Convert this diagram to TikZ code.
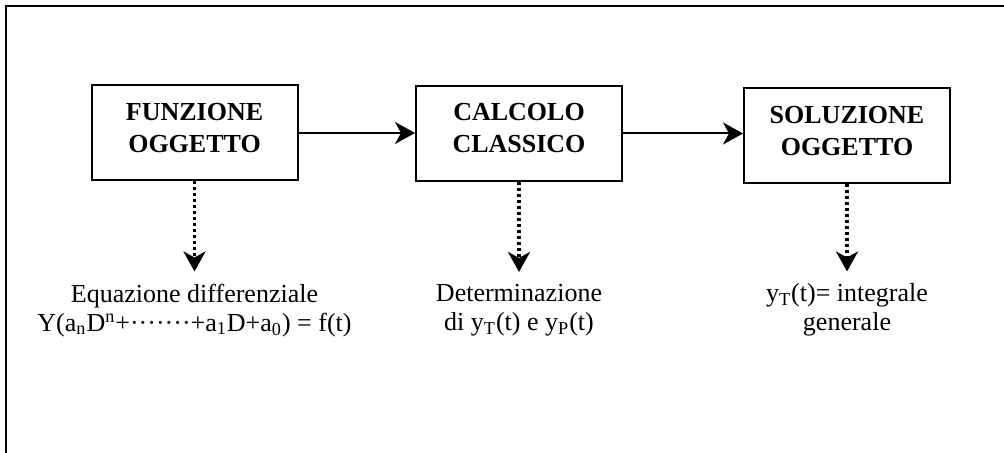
\documentclass[tikz,border=0pt]{standalone}
\usepackage{fontspec}
\setmainfont{Liberation Serif}
\usetikzlibrary{positioning, arrows.meta}
\tikzset{
  arr/.style={-{Stealth[length=10pt,width=11pt,inset=3pt]}, line width=1pt, draw=black},
  dotarr/.style={-{Stealth[length=10pt,width=11pt,inset=3pt]}, line width=1.6pt, draw=black,
    dash pattern=on 1.5pt off 1.5pt},
  blk/.style={draw=black, line width=1pt, minimum width=103pt, minimum height=47.5pt, align=center,
    font=\fontsize{13}{16}\selectfont\bfseries, text depth=5.5pt, inner sep=0pt},
  lab/.style={align=center, font=\fontsize{13}{14.5}\selectfont, inner xsep=0pt, inner ysep=6pt},
  frame/.style={line width=1pt, draw=black}
}

\begin{document}
\begin{tikzpicture}[x=0.5pt, y=-0.5pt]
\useasboundingbox (0,0) rectangle (1004,453);
\clip (0,0) rectangle (1004,453);
% ---------- outer frame ----------
\draw[frame] (6,6) rectangle (1020,470);
% ---------- blocks ----------
\node[blk] (fo) at (194.5,133) {FUNZIONE\\OGGETTO};
\node[blk] (cc) at (519,133.5) {CALCOLO\\CLASSICO};
\node[blk] (so) at (847,136)   {SOLUZIONE\\OGGETTO};
% ---------- texts below ----------
\node[lab, below=45pt of fo] (eq)
  {Equazione differenziale\\
   Y(a\textsubscript{n}D\textsuperscript{n}+·······+a\textsubscript{1}D+a\textsubscript{0}) = f(t)};
\node[lab, below=45pt of cc] (det)
  {Determinazione\\di y\textsubscript{T}(t) e y\textsubscript{P}(t)};
\node[lab, below=43.5pt of so] (ig)
  {y\textsubscript{T}(t)= integrale\\generale};
% ---------- connections ----------
\draw[arr] (fo.east) -- (fo.east -| cc.west);
\draw[arr] (cc.east) -- (cc.east -| so.west);
\draw[dotarr] (fo) -- (eq);
\draw[dotarr] (cc) -- (det);
\draw[dotarr] (so) -- (ig);
\end{tikzpicture}
\end{document}
